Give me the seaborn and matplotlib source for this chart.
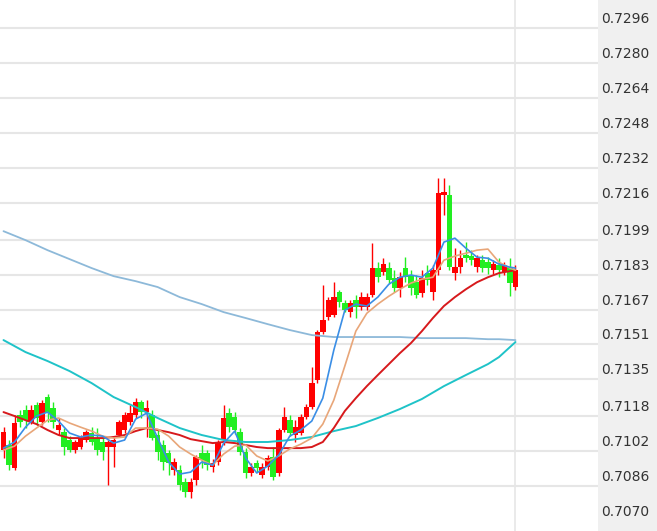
import numpy as np
import matplotlib
matplotlib.use("Agg")
import matplotlib.pyplot as plt
import matplotlib.transforms as mtransforms
import seaborn as sns

# OHLC (red = up, green = down)
opens = [0.71026, 0.71049, 0.70943, 0.71186, 0.71209, 0.71154, 0.71232, 0.71154, 0.71269, 0.71218,
         0.71118, 0.71108, 0.71072, 0.71026, 0.71040, 0.71072, 0.71104, 0.71081, 0.71063, 0.71040,
         0.71040, 0.71095, 0.71118, 0.71154, 0.71186, 0.71246, 0.71200, 0.71186, 0.71095, 0.71049,
         0.71012, 0.70934, 0.70934, 0.70879, 0.70834, 0.70889, 0.71012, 0.71012, 0.70948, 0.70971,
         0.71072, 0.71195, 0.71177, 0.71108, 0.71017, 0.70921, 0.70966, 0.70911, 0.70948, 0.70994,
         0.70921, 0.71118, 0.71163, 0.71095, 0.71104, 0.71177, 0.71223, 0.71347, 0.71566, 0.71635,
         0.71644, 0.71750, 0.71699, 0.71658, 0.71713, 0.71681, 0.71681, 0.71736, 0.71860, 0.71841,
         0.71860, 0.71814, 0.71768, 0.71860, 0.71828, 0.71795, 0.71745, 0.71837, 0.71750, 0.71850,
         0.72194, 0.72194, 0.71837, 0.71864, 0.71919, 0.71915, 0.71864, 0.71896, 0.71887, 0.71850,
         0.71873, 0.71841, 0.71864, 0.71773]
highs = [0.71131, 0.71072, 0.71186, 0.71209, 0.71232, 0.71232, 0.71246, 0.71255, 0.71282, 0.71246,
         0.71173, 0.71127, 0.71090, 0.71072, 0.71095, 0.71118, 0.71131, 0.71127, 0.71081, 0.71072,
         0.71086, 0.71163, 0.71200, 0.71232, 0.71264, 0.71255, 0.71255, 0.71209, 0.71118, 0.71072,
         0.71026, 0.70989, 0.70957, 0.70898, 0.70898, 0.71003, 0.71049, 0.71026, 0.70985, 0.71072,
         0.71232, 0.71218, 0.71200, 0.71127, 0.71035, 0.70966, 0.70980, 0.70966, 0.71003, 0.71040,
         0.71127, 0.71223, 0.71186, 0.71163, 0.71191, 0.71237, 0.71406, 0.71576, 0.71782, 0.71727,
         0.71795, 0.71759, 0.71713, 0.71713, 0.71736, 0.71750, 0.71745, 0.71974, 0.71887, 0.71905,
         0.71887, 0.71850, 0.71841, 0.71910, 0.71850, 0.71828, 0.71850, 0.71873, 0.71873, 0.72272,
         0.72272, 0.72240, 0.71951, 0.71942, 0.71979, 0.71942, 0.71919, 0.71919, 0.71910, 0.71896,
         0.71905, 0.71887, 0.71905, 0.71873]
lows = [0.70989, 0.70934, 0.70934, 0.71131, 0.71127, 0.71145, 0.71141, 0.71141, 0.71154, 0.71127,
        0.71095, 0.71003, 0.71017, 0.71012, 0.71031, 0.71063, 0.71049, 0.71003, 0.70980, 0.70866,
        0.70948, 0.71086, 0.71104, 0.71141, 0.71173, 0.71173, 0.71086, 0.71072, 0.70980, 0.70934,
        0.70911, 0.70911, 0.70843, 0.70811, 0.70806, 0.70866, 0.70943, 0.70934, 0.70925, 0.70957,
        0.71049, 0.71108, 0.71099, 0.71003, 0.70898, 0.70907, 0.70925, 0.70898, 0.70934, 0.70889,
        0.70907, 0.71108, 0.71090, 0.71063, 0.71095, 0.71168, 0.71214, 0.71333, 0.71557, 0.71621,
        0.71635, 0.71681, 0.71658, 0.71635, 0.71631, 0.71667, 0.71667, 0.71727, 0.71795, 0.71828,
        0.71791, 0.71750, 0.71727, 0.71795, 0.71736, 0.71722, 0.71727, 0.71782, 0.71713, 0.71828,
        0.72102, 0.71850, 0.71805, 0.71837, 0.71887, 0.71873, 0.71841, 0.71841, 0.71832, 0.71832,
        0.71818, 0.71828, 0.71731, 0.71759]
closes = [0.71108, 0.70957, 0.71150, 0.71154, 0.71163, 0.71209, 0.71173, 0.71241, 0.71195, 0.71154,
          0.71141, 0.71040, 0.71026, 0.71063, 0.71081, 0.71108, 0.71063, 0.71026, 0.71017, 0.71063,
          0.71072, 0.71154, 0.71186, 0.71195, 0.71246, 0.71200, 0.71218, 0.71081, 0.71017, 0.70971,
          0.70966, 0.70971, 0.70866, 0.70834, 0.70879, 0.70994, 0.70980, 0.70957, 0.70966, 0.71058,
          0.71173, 0.71131, 0.71118, 0.71017, 0.70921, 0.70948, 0.70943, 0.70948, 0.70989, 0.70902,
          0.71118, 0.71177, 0.71104, 0.71131, 0.71177, 0.71223, 0.71333, 0.71566, 0.71621, 0.71713,
          0.71727, 0.71704, 0.71667, 0.71699, 0.71681, 0.71727, 0.71727, 0.71860, 0.71818, 0.71878,
          0.71805, 0.71768, 0.71818, 0.71818, 0.71768, 0.71736, 0.71814, 0.71805, 0.71850, 0.72203,
          0.72208, 0.71864, 0.71864, 0.71905, 0.71905, 0.71896, 0.71905, 0.71860, 0.71860, 0.71878,
          0.71850, 0.71873, 0.71791, 0.71850]

# moving averages, sampled at candle positions
ma_short_idx = [0, 2, 4, 6, 8, 10, 12, 14, 16, 18, 20, 22, 24, 26, 28, 30, 32, 34, 36, 38, 40, 42, 44,
                46, 48, 50, 52, 54, 56, 58, 60, 62, 64, 66, 68, 70, 72, 74, 76, 78, 80, 82, 84, 86,
                88, 90, 92, 93]
ma5 = [0.71035, 0.71063, 0.71131, 0.71182, 0.71200, 0.71159, 0.71104, 0.71086, 0.71095, 0.71090,
       0.71058, 0.71072, 0.71168, 0.71195, 0.71081, 0.70971, 0.70916, 0.70925, 0.70971, 0.70957,
       0.71058, 0.71113, 0.70989, 0.70921, 0.70953, 0.71003, 0.71090, 0.71118, 0.71159, 0.71264,
       0.71484, 0.71667, 0.71695, 0.71686, 0.71727, 0.71786, 0.71818, 0.71828, 0.71818, 0.71860,
       0.71979, 0.71997, 0.71951, 0.71910, 0.71905, 0.71878, 0.71864, 0.71860]
ma10 = [0.71026, 0.71044, 0.71090, 0.71127, 0.71163, 0.71173, 0.71150, 0.71131, 0.71113, 0.71090,
        0.71081, 0.71086, 0.71127, 0.71127, 0.71122, 0.71090, 0.71040, 0.71008, 0.70980, 0.70957,
        0.71008, 0.71044, 0.71049, 0.70999, 0.70976, 0.70999, 0.71031, 0.71053, 0.71081, 0.71145,
        0.71255, 0.71411, 0.71571, 0.71653, 0.71695, 0.71731, 0.71763, 0.71791, 0.71809, 0.71818,
        0.71896, 0.71915, 0.71928, 0.71942, 0.71947, 0.71887, 0.71860, 0.71850]
ma20 = [0.71200, 0.71182, 0.71163, 0.71145, 0.71118, 0.71095, 0.71081, 0.71081, 0.71081, 0.71081,
        0.71086, 0.71095, 0.71113, 0.71127, 0.71118, 0.71108, 0.71095, 0.71076, 0.71067, 0.71058,
        0.71063, 0.71058, 0.71049, 0.71040, 0.71035, 0.71035, 0.71035, 0.71035, 0.71040, 0.71063,
        0.71127, 0.71205, 0.71264, 0.71319, 0.71370, 0.71420, 0.71470, 0.71516, 0.71571, 0.71631,
        0.71686, 0.71727, 0.71763, 0.71795, 0.71818, 0.71837, 0.71846, 0.71850]

ma_long_idx = [0, 4, 8, 12, 16, 20, 24, 28, 32, 36, 40, 44, 48, 52, 56, 60, 64, 68, 72, 76, 80, 84,
               88, 90, 93]
ma60 = [0.71530, 0.71475, 0.71434, 0.71388, 0.71333, 0.71269, 0.71223, 0.71173, 0.71127, 0.71095,
        0.71072, 0.71063, 0.71063, 0.71072, 0.71086, 0.71113, 0.71136, 0.71173, 0.71214, 0.71260,
        0.71319, 0.71370, 0.71420, 0.71452, 0.71521]
ma120 = [0.72029, 0.71988, 0.71942, 0.71901, 0.71860, 0.71823, 0.71800, 0.71773, 0.71727, 0.71695,
         0.71658, 0.71631, 0.71603, 0.71576, 0.71553, 0.71544, 0.71544, 0.71544, 0.71544, 0.71539,
         0.71539, 0.71539, 0.71534, 0.71534, 0.71530]

tick_labels = ["0.7296", "0.7280", "0.7264", "0.7248", "0.7232", "0.7216", "0.7199", "0.7183",
               "0.7167", "0.7151", "0.7135", "0.7118", "0.7102", "0.7086", "0.7070"]

sns.set_theme(style="white")
plt.rcParams['font.family'] = ['DejaVu Sans']

fig = plt.figure(figsize=(6.57, 5.31), dpi=100)
fig.patch.set_facecolor('#f0f0f0')
ax = fig.add_axes([0, 0, 598 / 657, 1])
ax.set_facecolor('white')

x = np.arange(len(opens))
o = np.array(opens)
c = np.array(closes)
up = c >= o
colors = np.where(up, '#ff0000', '#22ee22')

# grid lines
for lab in tick_labels[:-1]:
    ax.axhline(float(lab), color='#e6e6e6', lw=1.5, zorder=0)
ax.axvline(x[-1], color='#e6e6e6', lw=1.2, zorder=0)

# candles
ax.vlines(x, lows, highs, colors=colors, lw=1.0, zorder=2)
body_h = np.maximum(np.abs(c - o), 0.00003)
ax.bar(x, body_h, bottom=np.minimum(o, c), width=1.0, color=colors, linewidth=0, zorder=3)

# moving averages
sns.lineplot(x=ma_long_idx, y=ma120, ax=ax, color='#8db9d9', lw=1.3, estimator=None, sort=False, zorder=4)
sns.lineplot(x=ma_long_idx, y=ma60, ax=ax, color='#1fc3c8', lw=1.4, estimator=None, sort=False, zorder=4)
sns.lineplot(x=ma_short_idx, y=ma20, ax=ax, color='#d7191c', lw=1.4, estimator=None, sort=False, zorder=5)
sns.lineplot(x=ma_short_idx, y=ma10, ax=ax, color='#e8a679', lw=1.2, estimator=None, sort=False, zorder=5)
sns.lineplot(x=ma_short_idx, y=ma5, ax=ax, color='#3a8ee6', lw=1.2, estimator=None, sort=False, zorder=6)

ax.set_xlim(-0.636, 107.99)
ax.set_ylim(0.706552, 0.730883)
ax.set_xticks([])
ax.set_yticks([])
ax.set_xlabel('')
ax.set_ylabel('')
for s in ax.spines.values():
    s.set_visible(False)

# price labels in the right panel, sitting just above their grid lines
offset = mtransforms.ScaledTranslation(0, 2 / 100, fig.dpi_scale_trans)
for lab in tick_labels:
    ax.text(1.005, float(lab), lab, transform=ax.get_yaxis_transform() + offset,
            ha='left', va='bottom', fontsize=10, color='#333333', clip_on=False)

fig.savefig('out.png', dpi=100)
